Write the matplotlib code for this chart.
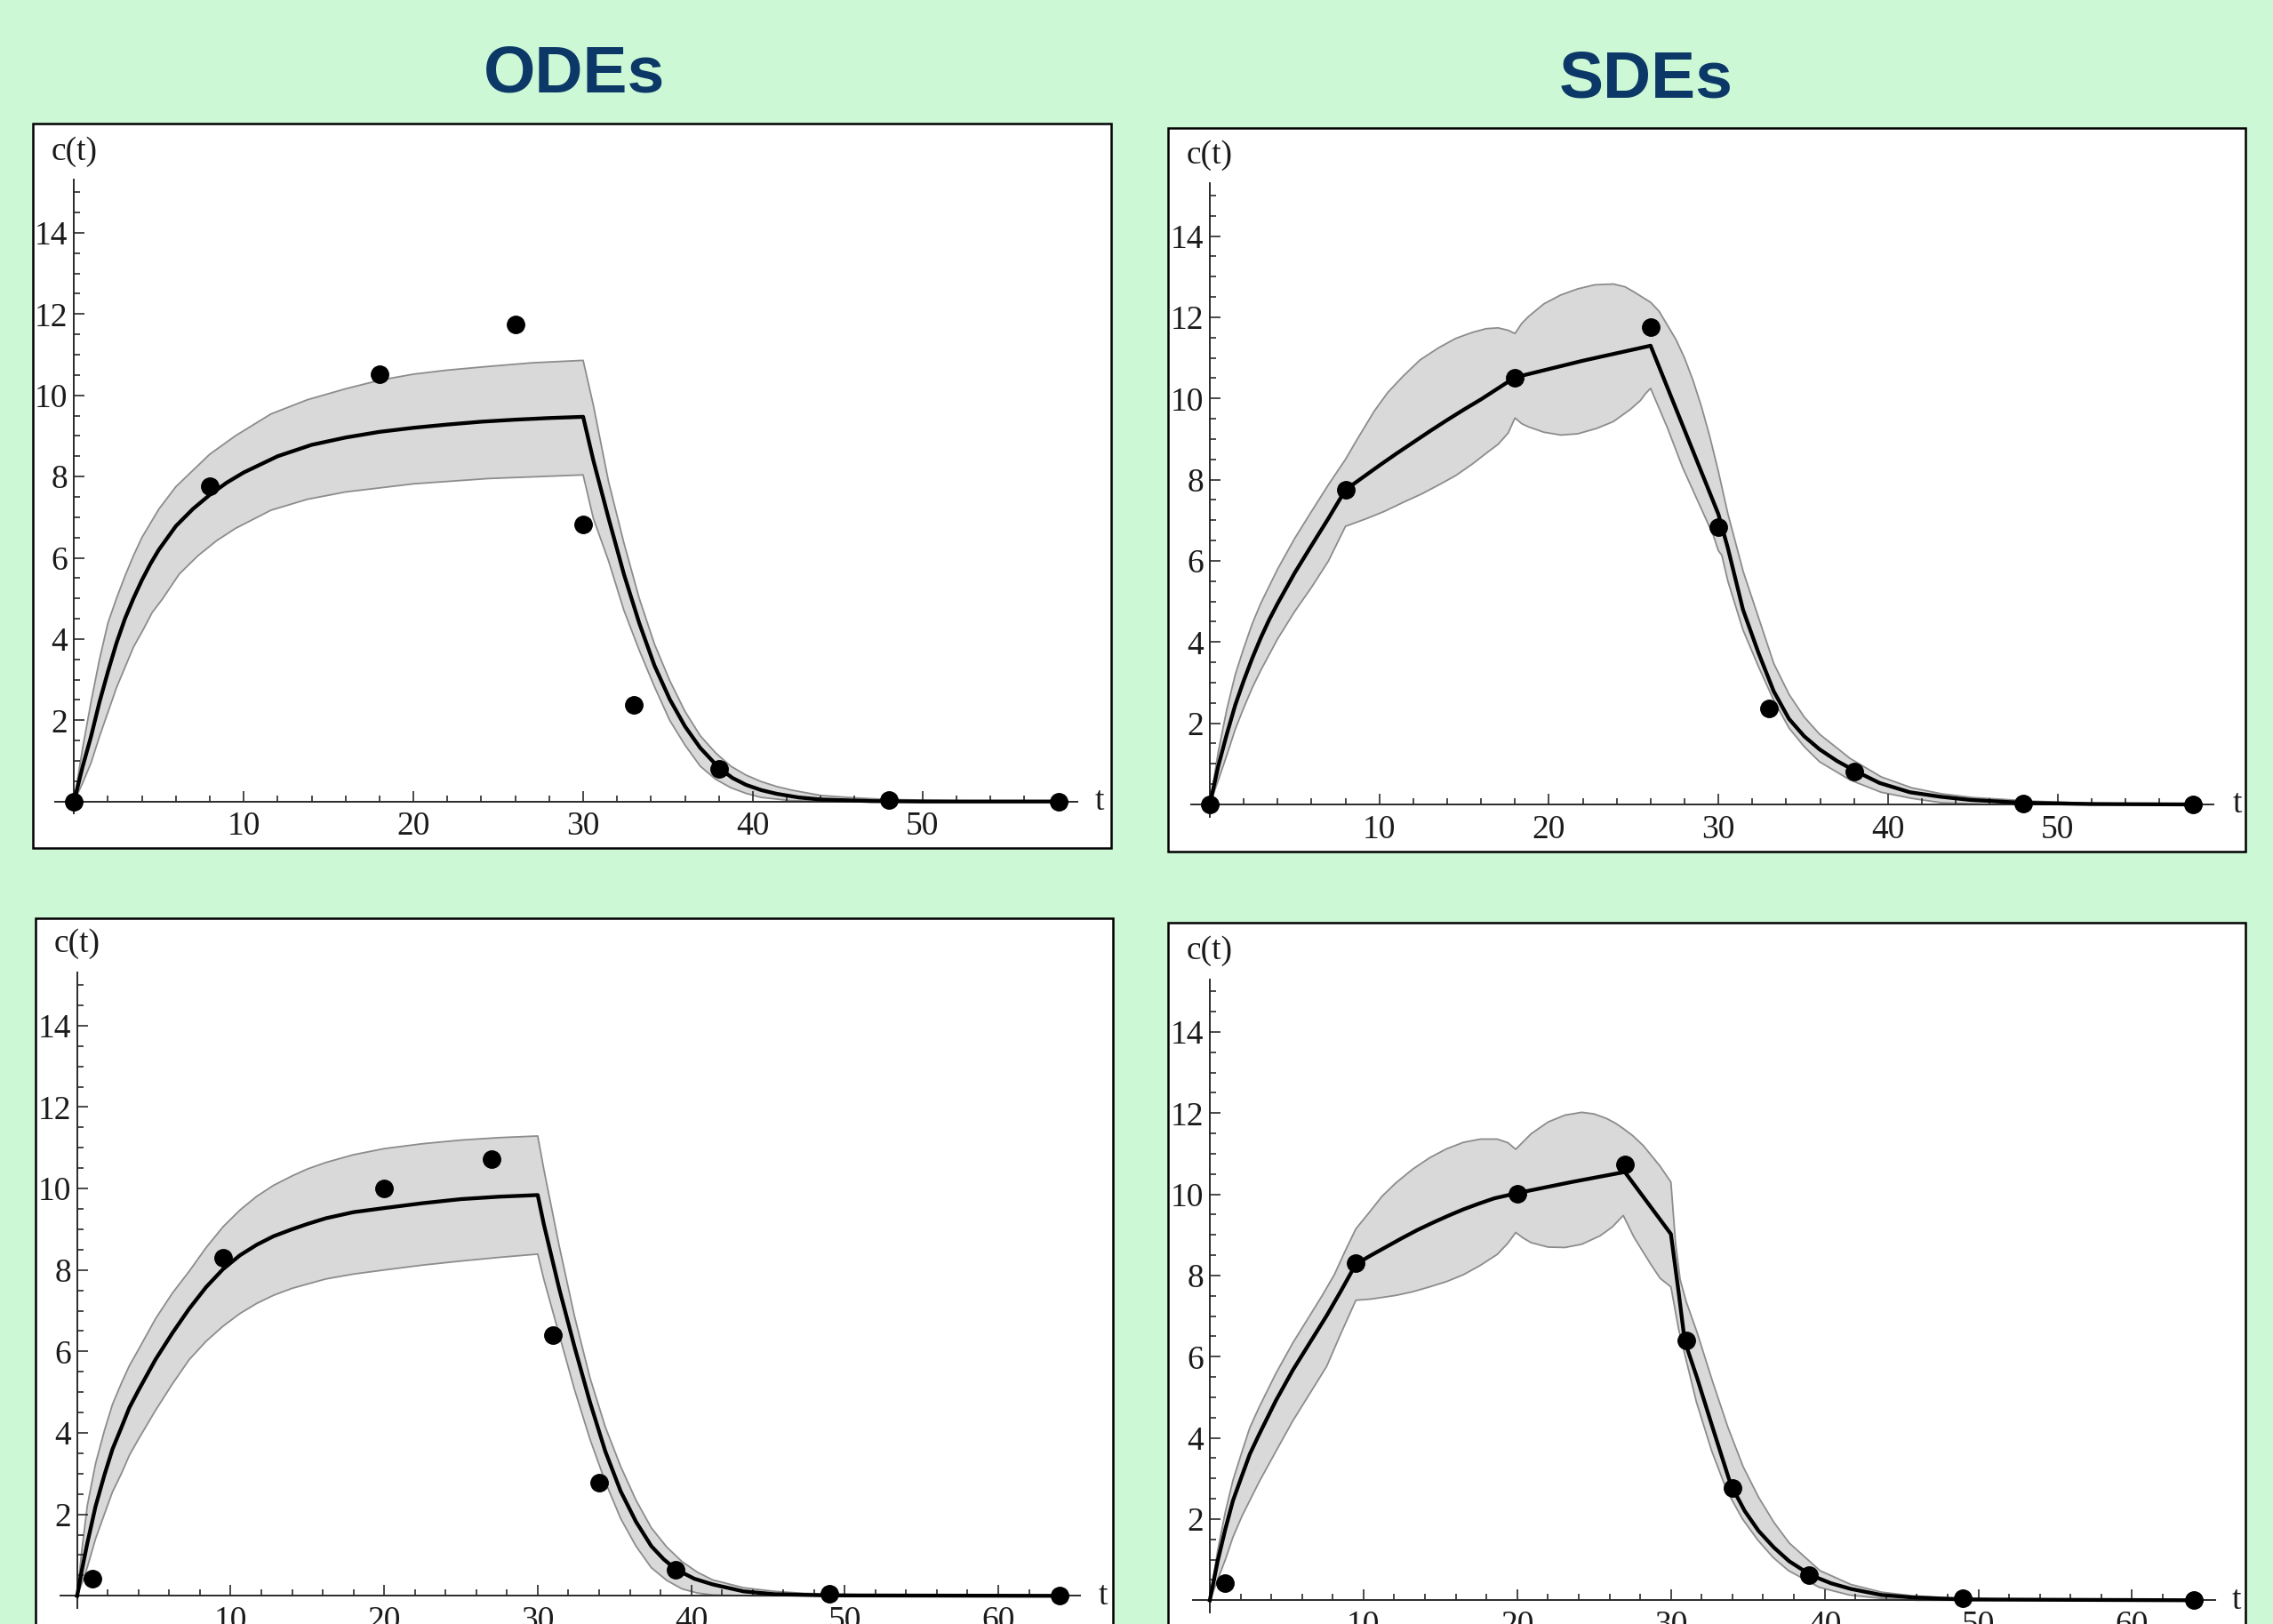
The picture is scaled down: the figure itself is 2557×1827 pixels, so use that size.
#!/usr/bin/env python3
"""ODE vs SDE fits: mean curve + band + observations, 2x2 panels"""
import numpy as np
import matplotlib
matplotlib.use("Agg")
import matplotlib.pyplot as plt
from matplotlib.patches import Rectangle
from matplotlib.ticker import FixedLocator

# ── observations (same data set in both columns) ──────────────
obs_top_t = [0, 8, 18, 26, 30, 33, 38, 48, 58]
obs_top_c = [0.0, 7.76, 10.52, 11.75, 6.83, 2.37, 0.81, 0.03, 0.0]
obs_bot_t = [1, 9.5, 20, 27, 31, 34, 39, 49, 64]
obs_bot_c = [0.43, 8.3, 10.01, 10.73, 6.4, 2.77, 0.63, 0.04, 0.0]

# ── ODE top ───────────────────────────────────────────────────
ode1_mean_t = [0, 0.5, 1, 1.5, 2, 2.5, 3, 3.5, 4, 4.5, 5, 6, 7, 8, 9, 10, 12, 14, 16, 18,
               20, 22, 24, 26, 28, 30,
               30.6, 31.5, 32.4, 33.3, 34.2, 35.1, 36, 36.9, 38, 38.8, 39.6, 40.5, 41.4,
               42.7, 44, 47, 50, 58]
ode1_mean_c = [0, 0.85, 1.6, 2.45, 3.2, 3.9, 4.5, 5.0, 5.45, 5.85, 6.2, 6.78, 7.2, 7.55,
               7.85, 8.1, 8.5, 8.78, 8.96, 9.1, 9.2, 9.28, 9.35, 9.4, 9.44, 9.47,
               8.4, 6.97, 5.6, 4.4, 3.35, 2.52, 1.85, 1.32, 0.83, 0.58, 0.41, 0.28, 0.19,
               0.1, 0.05, 0.01, 0, 0]
ode1_up_t = [0, 0.5, 1, 1.5, 2, 2.5, 3, 3.5, 4, 5, 6, 7, 8, 9.5, 11.6, 13.75, 16, 18, 20,
             22, 24.4, 27, 30,
             30.6, 31.5, 32.4, 33.3, 34.2, 35.1, 36, 36.9, 37.8, 38.7, 39.6, 40.5, 41.4,
             42.3, 44, 46, 48, 52, 58]
ode1_up_c = [0, 1.3, 2.45, 3.5, 4.4, 5.0, 5.55, 6.05, 6.5, 7.2, 7.75, 8.15, 8.55, 9.0,
             9.54, 9.89, 10.16, 10.37, 10.52, 10.62, 10.71, 10.8, 10.86,
             9.76, 7.87, 6.37, 5.01, 3.88, 2.98, 2.22, 1.62, 1.2, 0.87, 0.65, 0.49, 0.37,
             0.28, 0.15, 0.09, 0.05, 0.02, 0]
ode1_lo_t = [0, 0.5, 1, 1.5, 2, 2.5, 3, 3.5, 4.1, 4.6, 5.2, 6.2, 7.3, 8.4, 9.5, 11.6,
             13.75, 16, 20, 24.4, 30,
             30.6, 31.5, 32.4, 33.3, 34.2, 35.1, 36, 36.9, 37.8, 38.7, 39.6, 40.5, 42.3,
             45, 58]
ode1_lo_c = [0, 0.45, 0.95, 1.6, 2.2, 2.8, 3.3, 3.8, 4.25, 4.65, 4.98, 5.6, 6.05, 6.42,
             6.72, 7.17, 7.44, 7.62, 7.82, 7.95, 8.04,
             6.97, 5.92, 4.71, 3.73, 2.83, 2.0, 1.39, 0.87, 0.55, 0.34, 0.2, 0.1, 0.02,
             0, 0]

# ── SDE top ───────────────────────────────────────────────────
sde1_mean_t = [0, 0.5, 1, 1.5, 2, 2.5, 3, 3.5, 4, 5, 6, 7, 8, 9, 10, 11, 12, 13, 14, 15,
               16, 17, 18, 22, 26,
               30, 30.55, 31.45, 32.35, 33.26, 34.16, 35.06, 35.96, 37, 38, 39.5, 41.3,
               43.1, 44.9, 48, 52, 58]
sde1_mean_c = [0, 0.95, 1.73, 2.45, 3.05, 3.6, 4.1, 4.55, 4.95, 5.7, 6.38, 7.05, 7.75,
               8.05, 8.35, 8.64, 8.92, 9.2, 9.47, 9.73, 9.98, 10.25, 10.52, 10.93, 11.3,
               7.15, 6.33, 4.8, 3.75, 2.79, 2.11, 1.68, 1.36, 1.07, 0.84, 0.53, 0.3,
               0.19, 0.11, 0.04, 0.01, 0]
sde1_up_t = [0, 0.5, 1, 1.5, 2, 2.5, 3, 4, 5, 6, 7, 8, 8.7, 9.7, 10.5, 11.4, 12.4, 13.5,
             14.5, 15.5, 16.3, 17, 17.6, 18, 18.4, 18.8, 19.7, 20.7, 21.7, 22.7, 23.8,
             24.5, 25, 25.5, 26, 26.5, 27, 27.5, 28, 28.5, 29, 29.5, 30,
             30.56, 31.47, 32.37, 33.27, 34.17, 35.07, 35.97, 37.78, 39.6, 41.4, 43.2,
             45, 48.6, 52, 58]
sde1_up_c = [0, 1.3, 2.34, 3.2, 3.85, 4.45, 4.95, 5.8, 6.55, 7.22, 7.88, 8.5, 9.0, 9.69,
             10.15, 10.55, 10.95, 11.25, 11.48, 11.63, 11.72, 11.74, 11.68, 11.6, 11.85,
             12.02, 12.33, 12.55, 12.7, 12.8, 12.82, 12.75, 12.63, 12.5, 12.37, 12.15,
             11.8, 11.45, 11.0, 10.45, 9.8, 9.05, 8.2,
             7.16, 5.73, 4.6, 3.47, 2.71, 2.15, 1.73, 1.13, 0.68, 0.41, 0.26, 0.17,
             0.08, 0.03, 0]
sde1_lo_t = [0, 0.5, 1, 1.5, 2, 2.5, 3, 4, 5, 6, 7, 8, 9.3, 10.3, 11.4, 12.5, 13.5, 14.5,
             15.5, 16.3, 17, 17.6, 18, 18.4, 18.8, 19.7, 20.7, 21.7, 22.8, 23.8, 24.8,
             25.4, 25.7, 26, 27, 27.9, 28.8, 29.7, 30, 30.2,
             30.56, 31.45, 32.37, 33.27, 34.17, 35.07, 35.97, 37.78, 39.6, 41.4, 43.2,
             46, 58]
sde1_lo_c = [0, 0.6, 1.21, 1.85, 2.38, 2.87, 3.3, 4.08, 4.75, 5.35, 6.0, 6.85, 7.05,
             7.22, 7.44, 7.65, 7.87, 8.1, 8.39, 8.65, 8.87, 9.15, 9.52, 9.38, 9.3, 9.17,
             9.1, 9.13, 9.26, 9.43, 9.73, 9.95, 10.12, 10.25, 9.27, 8.29, 7.46, 6.63,
             6.25, 6.14,
             5.5, 4.3, 3.39, 2.56, 1.88, 1.42, 1.05, 0.6, 0.3, 0.15, 0.04, 0, 0]

# ── ODE bottom ────────────────────────────────────────────────
ode2_mean_t = [0, 0.3, 0.66, 1.2, 1.77, 2.3, 2.88, 3.4, 4, 5.1, 6.2, 7.3, 8.4, 9.5, 10.6,
               11.7, 12.8, 14, 15, 16.2, 18, 20, 22.5, 25, 27.5, 30,
               30.4, 31.4, 32.4, 33.4, 34.4, 35.4, 36.4, 37.4, 38.2, 39, 40.2, 41.4,
               43.4, 45.4, 49, 64]
ode2_mean_c = [0, 0.62, 1.29, 2.2, 2.96, 3.6, 4.13, 4.62, 5.05, 5.8, 6.45, 7.05, 7.58,
               8.02, 8.36, 8.62, 8.83, 9.0, 9.13, 9.27, 9.42, 9.52, 9.64, 9.74, 9.8, 9.84,
               9.12, 7.54, 6.11, 4.76, 3.55, 2.57, 1.82, 1.22, 0.9, 0.65, 0.42, 0.28,
               0.11, 0.04, 0.01, 0]
ode2_up_t = [0, 0.3, 0.66, 1.2, 1.77, 2.3, 2.88, 3.4, 4, 5.1, 6.2, 7.3, 8.4, 9.5, 10.6,
             11.7, 12.8, 14, 15, 16.2, 18, 20, 22.5, 25, 27.5, 30,
             30.4, 31.4, 32.4, 33.4, 34.4, 35.4, 36.4, 37.4, 38.4, 39.4, 40.4, 41.4,
             43.4, 45.4, 47.4, 52, 64]
ode2_up_c = [0, 1.1, 2.21, 3.25, 4.05, 4.7, 5.22, 5.65, 6.05, 6.8, 7.43, 7.97, 8.55,
             9.06, 9.47, 9.81, 10.08, 10.31, 10.48, 10.64, 10.83, 10.98, 11.1, 11.19,
             11.25, 11.29,
             10.47, 8.59, 6.86, 5.36, 4.15, 3.18, 2.35, 1.67, 1.2, 0.84, 0.58, 0.39,
             0.2, 0.11, 0.06, 0.02, 0]
ode2_lo_t = [0, 0.3, 0.66, 1.2, 1.77, 2.3, 2.88, 3.4, 4, 5.1, 6.2, 7.3, 8.4, 9.5, 10.6,
             11.7, 12.8, 14, 16.2, 18, 20, 22.5, 25, 27.5, 30,
             30.4, 31.4, 32.4, 33.4, 34.4, 35.4, 36.4, 37.4, 38.4, 39.4, 40.4, 41.4,
             44, 64]
ode2_lo_c = [0, 0.3, 0.7, 1.4, 2.0, 2.55, 3.0, 3.45, 3.85, 4.55, 5.2, 5.8, 6.25, 6.62,
             6.93, 7.18, 7.38, 7.55, 7.78, 7.9, 8.0, 8.12, 8.22, 8.31, 8.39,
             7.77, 6.41, 5.06, 3.85, 2.8, 1.9, 1.22, 0.69, 0.38, 0.17, 0.07, 0.02,
             0, 0]

# ── SDE bottom ────────────────────────────────────────────────
sde2_mean_t = [0, 0.5, 1, 1.5, 2.1, 2.6, 3.2, 4.3, 5.4, 6.5, 7.6, 8.5, 9.5, 10.5, 11.5,
               12.5, 13.5, 14.5, 15.5, 16.5, 17.5, 18.5, 20, 23.5, 27,
               30, 30.5, 30.9, 31.7, 32.7, 33.9, 34.8, 35.7, 36.7, 37.7, 39.1, 40.4,
               41.7, 43.7, 45.7, 49, 64]
sde2_mean_c = [0, 0.95, 1.74, 2.45, 3.08, 3.6, 4.08, 4.92, 5.67, 6.34, 7.01, 7.6, 8.28,
               8.5, 8.71, 8.92, 9.12, 9.3, 9.47, 9.63, 9.77, 9.9, 10.03, 10.3, 10.55,
               9.02, 7.59, 6.38, 5.48, 4.27, 2.84, 2.2, 1.71, 1.3, 0.96, 0.62, 0.42,
               0.28, 0.13, 0.07, 0.02, 0]
sde2_up_t = [0, 0.5, 1, 1.5, 2.1, 2.6, 3.2, 4.3, 5.4, 6.5, 7.3, 8.1, 8.8, 9.5, 10.3,
             11.2, 12.1, 13.2, 14.3, 15.4, 16.5, 17.6, 18.7, 19.4, 19.9, 20.4, 20.9, 22,
             23.1, 24.2, 25, 25.8, 26.4, 26.9, 27.5, 28.2, 29.3, 30,
             30.3, 30.6, 31, 31.7, 32.7, 33.7, 34.7, 35.7, 36.7, 37.7, 39.7, 41.7,
             43.7, 45.7, 47.7, 52, 64]
sde2_up_c = [0, 1.2, 2.16, 2.95, 3.67, 4.25, 4.75, 5.59, 6.34, 7.01, 7.5, 8.02, 8.6,
             9.15, 9.52, 9.95, 10.28, 10.62, 10.9, 11.12, 11.28, 11.36, 11.36, 11.27,
             11.11, 11.3, 11.49, 11.78, 11.95, 12.02, 11.98, 11.87, 11.75, 11.62, 11.45,
             11.2, 10.69, 10.3,
             8.8, 7.9, 7.35, 6.6, 5.4, 4.27, 3.29, 2.54, 1.92, 1.41, 0.73, 0.39, 0.2,
             0.11, 0.07, 0.02, 0]
sde2_lo_t = [0, 0.5, 1, 1.5, 2.1, 3.2, 4.3, 5.4, 6.5, 7.6, 8.5, 9.5, 10.5, 12.1, 13.2,
             14.3, 15.4, 16.5, 17.6, 18.7, 19.4, 19.9, 20.4, 20.9, 22, 23.1, 24.2, 25.4,
             26.2, 26.9, 27.6, 28.7, 29.3, 30,
             30.5, 31.66, 32.66, 33.65, 34.66, 35.66, 36.66, 37.65, 39.65, 41.6, 43.6,
             46, 64]
sde2_lo_c = [0, 0.5, 0.99, 1.55, 2.08, 2.91, 3.67, 4.42, 5.09, 5.76, 6.55, 7.39, 7.42,
             7.51, 7.6, 7.72, 7.85, 8.02, 8.25, 8.52, 8.8, 9.06, 8.92, 8.81, 8.7, 8.69,
             8.77, 8.98, 9.2, 9.48, 8.94, 8.27, 7.93, 7.72,
             6.68, 4.88, 3.67, 2.69, 2.0, 1.48, 1.05, 0.73, 0.32, 0.13, 0.05, 0, 0]

titles = ["ODEs", "SDEs"]

BG = "#cdf8d6"
TITLE_COLOR = "#0b3867"
SERIF = ["Liberation Serif", "DejaVu Serif"]
W, H = 2557, 1827

fig = plt.figure(figsize=(W / 100, H / 100), dpi=100, facecolor=BG)


def panel(frame, origin, scale, x_end, t_lab, xmaj,
          obs_t, obs_c, mean_t, mean_c, up_t, up_c, lo_t, lo_c):
    """frame = (left, top, right, bottom) in px; origin/scale map data -> px"""
    l, t, r, b = frame
    x0, y0 = origin
    sx, sy = scale
    ax = fig.add_axes([l / W, 1 - b / H, (r - l) / W, (b - t) / H])
    ax.set_facecolor("white")
    ax.set_xlim((l - x0) / sx, (r - x0) / sx)
    ax.set_ylim((y0 - b) / sy, (y0 - t) / sy)

    # band
    ax.fill(np.r_[up_t, lo_t[::-1]], np.r_[up_c, lo_c[::-1]],
            color="#d9d9d9", lw=0, zorder=1)
    ax.plot(up_t, up_c, color="#8c8c8c", lw=1.3, zorder=1.5)
    ax.plot(lo_t, lo_c, color="#8c8c8c", lw=1.3, zorder=1.5)
    # mean + data
    ax.plot(mean_t, mean_c, color="black", lw=3.1, zorder=3,
            solid_joinstyle="round")
    ax.plot(obs_t, obs_c, "o", color="black", ms=14, zorder=4, clip_on=False)

    # Mathematica-style axes through the origin
    for s in ["top", "right"]:
        ax.spines[s].set_visible(False)
    ax.spines["left"].set_position(("data", 0))
    ax.spines["bottom"].set_position(("data", 0))
    ax.spines["left"].set_bounds(-0.3, 15.3)
    ax.spines["bottom"].set_bounds(-1.1, x_end)
    for s in ["left", "bottom"]:
        ax.spines[s].set_color("#2a2a2a")
        ax.spines[s].set_linewidth(1.4)
        ax.spines[s].set_zorder(2)

    ax.xaxis.set_major_locator(FixedLocator(xmaj))
    ax.xaxis.set_minor_locator(FixedLocator(np.arange(2, x_end, 2)))
    ax.yaxis.set_major_locator(FixedLocator([2, 4, 6, 8, 10, 12, 14]))
    ax.yaxis.set_minor_locator(FixedLocator(np.arange(0.5, 15.1, 0.5)))
    ax.tick_params(which="both", direction="in", color="#2a2a2a", width=1.2,
                   labelsize=27, labelcolor="#1a1a1a")
    ax.tick_params(which="major", length=8.5)
    ax.tick_params(which="minor", length=5)
    ax.tick_params(axis="x", pad=8)
    ax.tick_params(axis="y", pad=5)
    for lab in ax.get_xticklabels() + ax.get_yticklabels():
        lab.set_family(SERIF)

    ax.text(0, 16.0, "c(t)", ha="center", va="center", fontsize=27,
            family=SERIF, color="#1a1a1a")
    ax.text(t_lab, 0, "t", ha="center", va="center", fontsize=27,
            family=SERIF, color="#1a1a1a")

    # outer frame
    ax.add_patch(Rectangle((0, 0), 1, 1, transform=ax.transAxes, fill=False,
                           ec="black", lw=1.8, clip_on=False, zorder=5))
    return ax


panel((37.3, 138.75, 1249.6, 954.4), (83.3, 901.7), (19.09, 45.7), 59.1, 60.4,
      [10, 20, 30, 40, 50],
      obs_top_t, obs_top_c, ode1_mean_t, ode1_mean_c,
      ode1_up_t, ode1_up_c, ode1_lo_t, ode1_lo_c)
panel((1314.2, 143.75, 2526.3, 958.1), (1361, 905), (19.07, 45.67), 59.2, 60.6,
      [10, 20, 30, 40, 50],
      obs_top_t, obs_top_c, sde1_mean_t, sde1_mean_c,
      sde1_up_t, sde1_up_c, sde1_lo_t, sde1_lo_c)
panel((39.8, 1032.7, 1252, 1847.7), (86.8, 1795.3), (17.27, 45.82), 65.3, 66.8,
      [10, 20, 30, 40, 50, 60],
      obs_bot_t, obs_bot_c, ode2_mean_t, ode2_mean_c,
      ode2_up_t, ode2_up_c, ode2_lo_t, ode2_lo_c)
panel((1314.2, 1038, 2526.3, 1853), (1361, 1800.3), (17.29, 45.67), 65.4, 66.8,
      [10, 20, 30, 40, 50, 60],
      obs_bot_t, obs_bot_c, sde2_mean_t, sde2_mean_c,
      sde2_up_t, sde2_up_c, sde2_lo_t, sde2_lo_c)

fig.text(646 / W, 1 - 103 / H, titles[0], ha="center", va="baseline",
         fontsize=54, weight="bold", color=TITLE_COLOR,
         family=["Liberation Sans", "DejaVu Sans"])
fig.text(1852 / W, 1 - 109 / H, titles[1], ha="center", va="baseline",
         fontsize=54, weight="bold", color=TITLE_COLOR,
         family=["Liberation Sans", "DejaVu Sans"])

fig.savefig("out.png", dpi=100, facecolor=BG)
print("saved out.png")
